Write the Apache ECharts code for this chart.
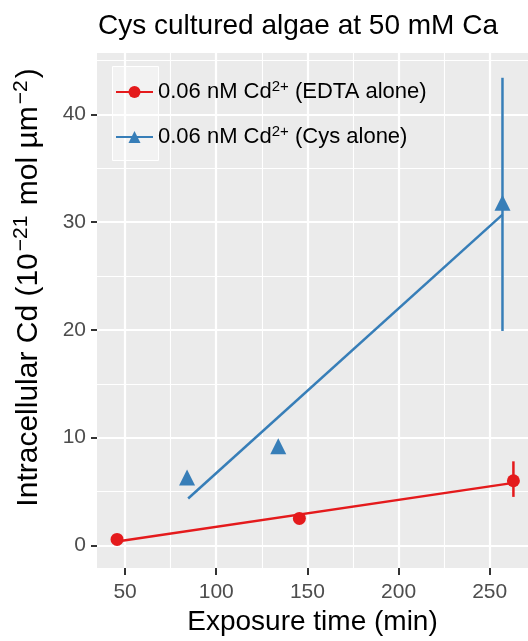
<!DOCTYPE html>
<html>
<head>
<meta charset="utf-8">
<script src="https://cdn.jsdelivr.net/npm/echarts@6/dist/echarts.min.js"></script>
<style>
  html, body { margin: 0; padding: 0; background: #fff; }
  #chart { width: 528px; height: 641px; }
</style>
</head>
<body>
<div id="chart"></div>
<script>
// measured points (time in min, Cd in 1e-21 mol/um2)
const edtaTime = [45.6, 145.6, 263];
const edtaCd = [0.55, 2.5, 6.0];
const edtaLow = [0.45, 2.4, 4.5];
const edtaHigh = [0.65, 2.6, 7.8];

const cysTime = [84, 134, 257];
const cysCd = [6.3, 9.2, 31.8];
const cysLow = [6.2, 9.1, 19.9];
const cysHigh = [6.4, 9.3, 43.4];

// fitted lines (end points)
const edtaFitTime = [45.6, 263];
const edtaFitCd = [0.35, 5.8];
const cysFitTime = [84.6, 257];
const cysFitCd = [4.35, 30.7];

const xTicks = [50, 100, 150, 200, 250];
const xMinor = [75, 125, 175, 225];
const yTicks = [0, 10, 20, 30, 40];
const yMinor = [5, 15, 25, 35, 45];

const RED = '#E41A1C';
const BLUE = '#377EB8';
const FONT = 'Liberation Sans, Arial, sans-serif';

const chart = echarts.init(document.getElementById('chart'));

const zip = (a, b) => a.map((v, i) => [v, b[i]]);
const zip3 = (a, b, c) => a.map((v, i) => [v, b[i], c[i]]);

function errorBars(color) {
  return function (params, api) {
    const p1 = api.coord([api.value(0), api.value(1)]);
    const p2 = api.coord([api.value(0), api.value(2)]);
    return {
      type: 'line',
      shape: { x1: p1[0], y1: p1[1], x2: p2[0], y2: p2[1] },
      style: { stroke: color, lineWidth: 2.5 }
    };
  };
}

const yNameRich = {
  a: { fontSize: 30, fontFamily: FONT, color: '#000', lineHeight: 36 },
  sup: { fontSize: 21, fontFamily: FONT, color: '#000', verticalAlign: 'top', lineHeight: 36, padding: [0, 2, 14, 2] }
};

const xBase = { type: 'value', min: 34.6, max: 271, gridIndex: 0 };
const yBase = { type: 'value', min: -2.1, max: 45.7, gridIndex: 0 };

const option = {
  animation: false,
  title: {
    text: 'Cys cultured algae at 50 mM Ca',
    left: 98,
    top: 12,
    padding: 0,
    textStyle: { fontSize: 28, fontWeight: 'normal', color: '#000', fontFamily: FONT }
  },
  grid: {
    left: 97, right: 0, top: 53, bottom: 71,
    show: true, backgroundColor: '#EBEBEB', borderWidth: 0
  },
  graphic: [{
    type: 'rect',
    left: 112, top: 66,
    shape: { width: 46, height: 94 },
    style: { fill: '#F2F2F2', stroke: '#fff', lineWidth: 1 }
  }],
  legend: {
    orient: 'vertical',
    left: 115,
    top: 79,
    padding: 0,
    itemWidth: 37,
    itemHeight: 15,
    itemGap: 20,
    data: ['0.06 nM Cd2+ (EDTA alone)', '0.06 nM Cd2+ (Cys alone)'],
    formatter: function (name) {
      const tail = name.indexOf('EDTA') > -1 ? ' (EDTA alone)' : ' (Cys alone)';
      return '{a|0.06 nM Cd}{sup|2+}{a|' + tail + '}';
    },
    textStyle: {
      rich: {
        a: { fontSize: 22, fontFamily: FONT, color: '#000', lineHeight: 26 },
        sup: { fontSize: 15, fontFamily: FONT, color: '#000', verticalAlign: 'top', lineHeight: 26, padding: [0, 0, 10, 0] }
      }
    }
  },
  xAxis: [
    Object.assign({}, xBase, {
      position: 'bottom',
      name: 'Exposure time (min)',
      nameLocation: 'middle',
      nameGap: 40,
      nameTextStyle: { fontSize: 28, color: '#000', fontFamily: FONT },
      axisLine: { show: true, onZero: false, lineStyle: { color: 'rgba(0,0,0,0)' } },
      axisTick: { show: true, inside: false, length: 7, customValues: xTicks, lineStyle: { color: '#333', width: 2 } },
      axisLabel: { customValues: xTicks, fontSize: 21, color: '#4D4D4D', fontFamily: FONT, margin: 14 },
      splitLine: { show: true, lineStyle: { color: '#fff', width: 2.2 } }
    }),
    Object.assign({}, xBase, {
      position: 'top',
      axisLine: { show: false, onZero: false },
      axisTick: { show: false, customValues: xMinor },
      axisLabel: { show: false, customValues: xMinor },
      splitLine: { show: true, lineStyle: { color: '#fff', width: 1.1 } }
    })
  ],
  yAxis: [
    Object.assign({}, yBase, {
      position: 'left',
      name: '{a|Intracellular Cd (10}{sup|\u221221}{a| mol \u00b5m}{sup|\u22122}{a|)}',
      nameLocation: 'middle',
      nameGap: 50,
      nameTextStyle: { rich: yNameRich, padding: [0, 0, 0, 46] },
      axisLine: { show: true, onZero: false, lineStyle: { color: 'rgba(0,0,0,0)' } },
      axisTick: { show: true, length: 6, customValues: yTicks, lineStyle: { color: '#333', width: 2 } },
      axisLabel: { customValues: yTicks, fontSize: 21, color: '#4D4D4D', fontFamily: FONT, margin: 11 },
      splitLine: { show: true, lineStyle: { color: '#fff', width: 2.2 } }
    }),
    Object.assign({}, yBase, {
      position: 'right',
      axisLine: { show: false, onZero: false },
      axisTick: { show: false, customValues: yMinor },
      axisLabel: { show: false, customValues: yMinor },
      splitLine: { show: true, lineStyle: { color: '#fff', width: 1.1 } }
    })
  ],
  series: [
    {
      name: '0.06 nM Cd2+ (EDTA alone)',
      type: 'line',
      data: zip(edtaFitTime, edtaFitCd),
      symbol: 'circle',
      showSymbol: false,
      lineStyle: { color: RED, width: 2.5 },
      itemStyle: { color: RED },
      z: 3
    },
    {
      name: '0.06 nM Cd2+ (Cys alone)',
      type: 'line',
      data: zip(cysFitTime, cysFitCd),
      symbol: 'triangle',
      showSymbol: false,
      lineStyle: { color: BLUE, width: 2.5 },
      itemStyle: { color: BLUE },
      z: 3
    },
    {
      name: 'edta-err',
      type: 'custom',
      renderItem: errorBars(RED),
      data: zip3(edtaTime, edtaLow, edtaHigh),
      z: 4
    },
    {
      name: 'cys-err',
      type: 'custom',
      renderItem: errorBars(BLUE),
      data: zip3(cysTime, cysLow, cysHigh),
      z: 4
    },
    {
      name: 'edta-pts',
      type: 'scatter',
      data: zip(edtaTime, edtaCd),
      symbol: 'circle',
      symbolSize: 13,
      itemStyle: { color: RED, opacity: 1 },
      z: 5
    },
    {
      name: 'cys-pts',
      type: 'scatter',
      data: zip(cysTime, cysCd),
      symbol: 'triangle',
      symbolSize: 16,
      itemStyle: { color: BLUE, opacity: 1 },
      z: 5
    }
  ]
};

chart.setOption(option);
</script>
</body>
</html>
